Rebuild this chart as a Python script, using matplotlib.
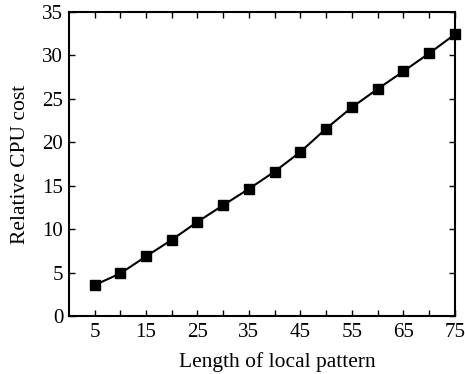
import matplotlib
matplotlib.use('Agg')
import matplotlib.pyplot as plt

""" Data """
patternLength = [5, 10, 15, 20, 25, 30, 35, 40, 45, 50, 55, 60, 65, 70, 75]
relativeCost = [3.56, 4.9, 6.86, 8.77, 10.84, 12.76, 14.64, 16.63, 18.89,
                21.57, 24.02, 26.13, 28.16, 30.23, 32.41]
xTickLabels = [str(x) if x % 10 == 5 else '' for x in patternLength]

plt.rcParams['font.family'] = ['Liberation Serif', 'DejaVu Serif']

fig = plt.figure(figsize=(4.65, 3.74), dpi=100)
ax = fig.add_axes([0.148, 0.155, 0.83, 0.813])

ax.plot(patternLength, relativeCost, color='black', linewidth=1.5,
        marker='s', markersize=6.5, clip_on=False, zorder=3)

ax.set_xlim(0, 75)
ax.set_ylim(0, 35)
ax.set_xticks(patternLength)
ax.set_xticklabels(xTickLabels)
ax.set_yticks(range(0, 36, 5))
ax.tick_params(direction='in', top=True, right=True, labelsize=15,
               length=4, width=1)
ax.tick_params(axis='x', pad=5)
ax.tick_params(axis='y', pad=4)
for s in ax.spines.values():
    s.set_linewidth(1.5)

ax.set_xlabel('Length of local pattern', fontsize=15.5, labelpad=5)
ax.xaxis.set_label_coords(0.54, -0.12)
ax.xaxis.label.set_va('top')
ax.set_ylabel('Relative CPU cost', fontsize=15.5, labelpad=9)

fig.savefig('out.png', dpi=100)
